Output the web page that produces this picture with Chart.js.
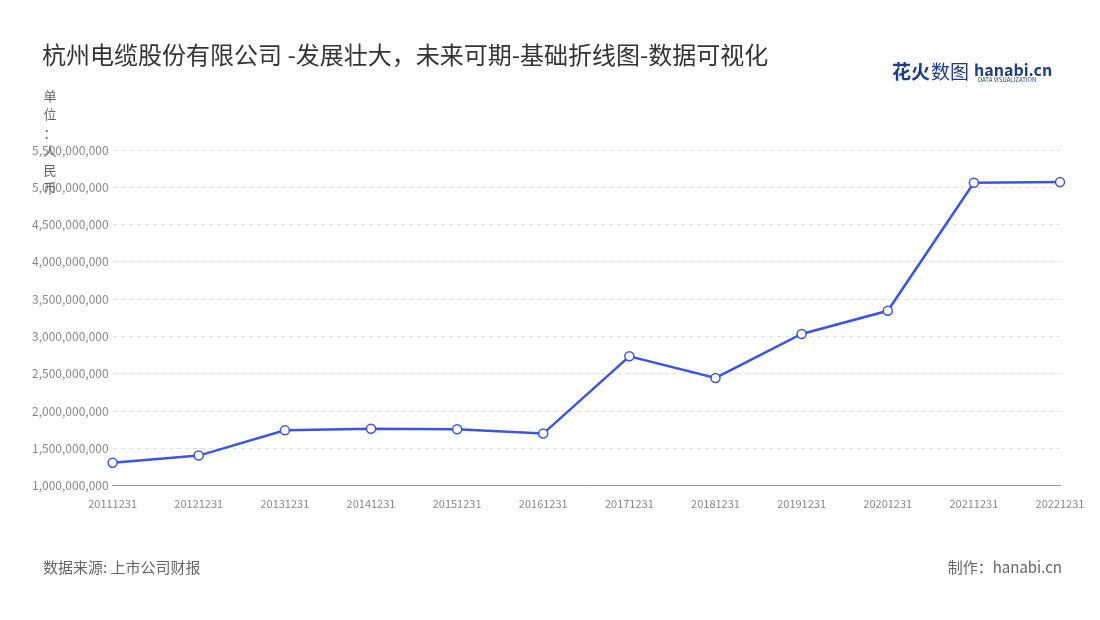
<!DOCTYPE html>
<html><head><meta charset="utf-8">
<script src="https://cdn.jsdelivr.net/npm/chart.js@4/dist/chart.umd.min.js"></script>
<style>body{margin:0;background:#fff}#w{width:1100px;height:620px}</style>
</head><body><div id="w"><canvas id="c"></canvas></div>
<script>
const categories=['20111231','20121231','20131231','20141231','20151231','20161231','20171231','20181231','20191231','20201231','20211231','20221231'];
const revenue=[1310000000,1405000000,1743000000,1765000000,1757000000,1700000000,2735000000,2445000000,3035000000,3345000000,5060000000,5070000000];
const yTicks=[1000000000,1500000000,2000000000,2500000000,3000000000,3500000000,4000000000,4500000000,5000000000,5500000000];
const title='杭州电缆股份有限公司 -发展壮大，未来可期-基础折线图-数据可视化';
const unitLabel='单位：人民币';
const sourceText='数据来源: 上市公司财报';
const makerText='制作：hanabi.cn';
const F='"Noto Sans CJK SC","Noto Sans",sans-serif';
const deco={id:'deco',afterDraw(ch){const c=ch.ctx;c.save();
c.fillStyle='#333';c.font='24px '+F;c.textBaseline='middle';c.fillText(title,42,55);
c.fillStyle='#666';c.font='13px '+F;c.textAlign='center';
[...unitLabel].forEach((s,i)=>c.fillText(s,50,96+i*18.5));
c.textAlign='left';c.fillStyle='#666';c.font='15px '+F;c.fillText(sourceText,43,567);
c.textAlign='right';c.fillText(makerText,1062,567);
c.fillStyle='#1e3a8a';c.font='bold 19px '+F;c.textAlign='left';c.fillText('花火',892,72);
c.font='19px '+F;c.fillText('数图',931,72);
c.font='bold 16px '+F;c.fillText('hanabi.cn',974,70);
c.font='6px '+F;c.fillText('DATA VISUALIZATION',978,80);
c.restore();}};
new Chart(document.getElementById('c'),{type:'line',
data:{labels:categories,datasets:[{data:revenue,borderColor:'#3b55e6',borderWidth:2.5,pointBackgroundColor:'#fff',pointBorderColor:'#3b55e6',pointBorderWidth:1.5,pointRadius:4.5,tension:0}]},
options:{responsive:true,maintainAspectRatio:false,animation:false,
layout:{padding:{left:28,right:40,top:150,bottom:107}},
plugins:{legend:{display:false},tooltip:{enabled:false}},
scales:{x:{offset:false,grid:{display:false},border:{color:'#999'},ticks:{color:'#888',font:{size:11,family:F},maxRotation:0,autoSkip:false}},
y:{min:1000000000,max:5500000000,afterBuildTicks:a=>{a.ticks=yTicks.map(v=>({value:v}))},
grid:{color:'#ddd',drawTicks:false},border:{display:false,dash:[4,4]},
ticks:{color:'#888',padding:4,font:{size:12,family:F},callback:v=>v.toLocaleString('en-US')}}}}
,plugins:[deco]});
</script></body></html>
